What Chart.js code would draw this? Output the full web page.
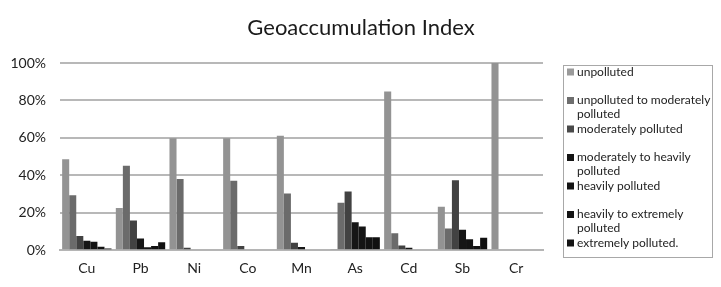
<!DOCTYPE html>
<html>
<head>
<meta charset="utf-8">
<script src="https://cdn.jsdelivr.net/npm/chart.js@4"></script>
<style>
  html, body { margin: 0; padding: 0; background: #fff; }
  #wrap { width: 721px; height: 287px; }
</style>
</head>
<body>
<div id="wrap"><canvas id="geoChart" width="721" height="287"></canvas></div>
<script>
// Kategori logam
const metals = ['Cu', 'Pb', 'Ni', 'Co', 'Mn', 'As', 'Cd', 'Sb', 'Cr'];
// Nilai tiap kelas (persen)
const unpolluted        = [48.6, 22.5, 59.8, 59.8, 61.1, 0.4, 84.8, 23.2, 100];
const unpollutedToMod   = [29.3, 45.1, 38.0, 37.1, 30.3, 25.4, 9.1, 11.6, 0];
const moderately        = [7.6, 15.8, 1.3, 2.2, 4.0, 31.3, 2.5, 37.3, 0];
const modToHeavily      = [5.1, 6.3, 0, 0, 1.7, 14.9, 1.3, 10.9, 0];
const heavily           = [4.5, 1.6, 0, 0, 0.5, 12.7, 0, 5.8, 0];
const heavilyToExtreme  = [1.8, 2.2, 0, 0, 0, 6.9, 0, 2.2, 0];
const extremely         = [0.9, 4.2, 0, 0, 0, 6.9, 0, 6.7, 0];
const yTicks = [0, 20, 40, 60, 80, 100];

const seriesLabels = [
    'unpolluted',
    ['unpolluted to moderately', 'polluted'],
    'moderately polluted',
    ['moderately to heavily', 'polluted'],
    'heavily polluted',
    ['heavily to extremely', 'polluted'],
    'extremely polluted.'
];
const seriesData = [unpolluted, unpollutedToMod, moderately, modToHeavily, heavily, heavilyToExtreme, extremely];
const seriesColors = ['#939393', '#6b6b6b', '#424242', '#161616', '#141414', '#121212', '#101010'];
const legendColors = ['#9a9a9a', '#6e6e6e', '#4a4a4a', '#141414', '#141414', '#141414', '#141414'];

const FONT = 'Lato, "Liberation Sans", sans-serif';

// Judul + legenda kotak di kanan (gaya Excel)
const boxLegend = {
    id: 'boxLegend',
    afterDraw(chart) {
        const ctx = chart.ctx;
        ctx.save();
        // judul di tengah kanvas
        ctx.fillStyle = '#1a1a1a';
        ctx.font = '22px ' + FONT;
        ctx.textAlign = 'center';
        ctx.textBaseline = 'middle';
        ctx.fillText('Geoaccumulation Index', 361, 28);
        // kotak legenda
        ctx.strokeStyle = '#a8a8a8';
        ctx.lineWidth = 1;
        ctx.strokeRect(563.5, 65.5, 149, 192);
        ctx.font = '12px ' + FONT;
        ctx.textAlign = 'left';
        let y = 72;
        seriesLabels.forEach((lab, i) => {
            ctx.fillStyle = legendColors[i];
            ctx.fillRect(567, y - 3.5, 7, 7);
            ctx.fillStyle = '#222';
            const lines = Array.isArray(lab) ? lab : [lab];
            lines.forEach((t, k) => ctx.fillText(t, 577, y + k * 14));
            y += 28.5;
        });
        ctx.restore();
    }
};

const chart = new Chart(document.getElementById('geoChart'), {
    type: 'bar',
    data: {
        labels: metals,
        datasets: seriesData.map((d, i) => ({
            label: Array.isArray(seriesLabels[i]) ? seriesLabels[i].join(' ') : seriesLabels[i],
            data: d,
            backgroundColor: seriesColors[i],
            borderWidth: 0,
            categoryPercentage: 0.92,
            barPercentage: 1
        }))
    },
    options: {
        responsive: false,
        animation: false,
        layout: { padding: { left: 0, right: 178, top: 63, bottom: 0 } },
        plugins: {
            legend: { display: false },
            tooltip: { enabled: false },
            title: { display: false }
        },
        scales: {
            x: {
                grid: { display: false, drawTicks: false },
                border: { display: true, color: '#b5b5b5', width: 2 },
                ticks: { color: '#222', font: { family: FONT, size: 14 }, padding: 10 }
            },
            y: {
                min: 0,
                max: 100,
                afterFit(scale) { scale.width = 60; },
                afterBuildTicks(scale) { scale.ticks = yTicks.map(v => ({ value: v })); },
                grid: { color: '#b8b8b8', lineWidth: 2, drawTicks: false },
                border: { display: false },
                ticks: {
                    color: '#222',
                    font: { family: FONT, size: 14 },
                    padding: 14,
                    callback: v => v + '%'
                }
            }
        }
    },
    plugins: [boxLegend]
});
</script>
</body>
</html>
